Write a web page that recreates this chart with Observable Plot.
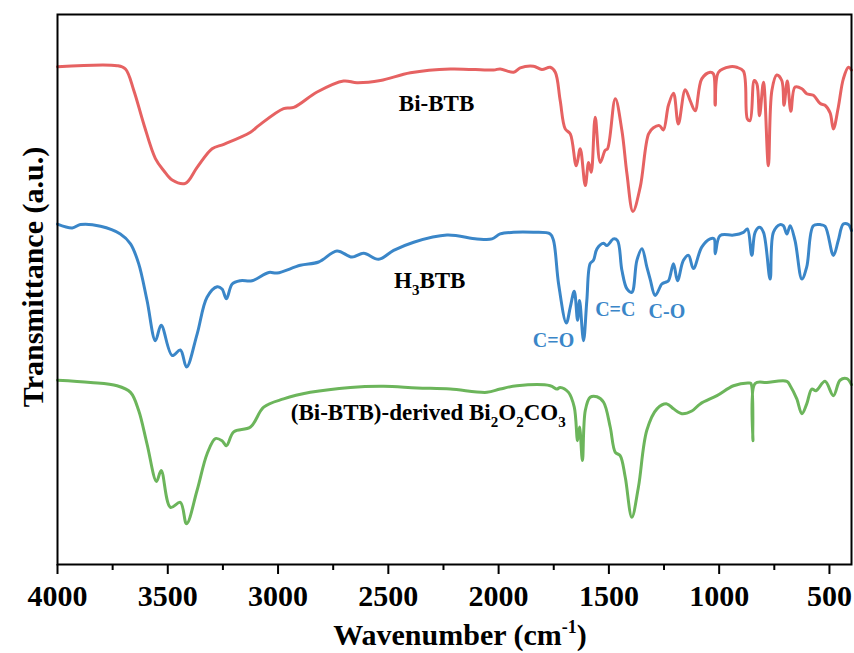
<!DOCTYPE html>
<html>
<head>
<meta charset="utf-8">
<script src="https://cdn.jsdelivr.net/npm/d3@7"></script>
<script src="https://cdn.jsdelivr.net/npm/@observablehq/plot@0.6"></script>
<style>
  html, body { margin: 0; padding: 0; background: #fff; }
  #chart svg { display: block; }
</style>
</head>
<body>
<div id="chart"></div>
<script>
// ---- Data (wavenumber in cm^-1, transmittance in a.u., curves offset) ----
const wnBiBTB = [4000,3730,3692,3654,3609,3556,3518,3480,3420,3367,
  3299,3246,3125,3088,2975,2929,2823,2703,2642,2536,
  2400,2219,2023,1993,1932,1902,1842,1804,1766,1743,
  1721,1698,1675,1648,1630,1607,1592,1580,1562,1539,
  1517,1506,1471,1441,1418,1391,1358,1320,1298,1271,
  1253,1230,1207,1185,1154,1132,1109,1079,1041,1026,
  1018,1003,950,920,890,872,860,841,829,817,
  799,777,761,739,716,706,691,675,656,625,
  603,573,542,520,497,482,460,437,414,400];
const tBiBTB = [90.5,90.7,90.1,86.2,80.1,73.8,71.6,69.9,69.3,72.2,
  75.6,76.4,78.6,79.8,82.9,83.1,85.9,87.9,87.6,88.0,
  89.4,90.1,89.9,90.1,89.5,90.3,90.6,90.0,90.4,89.5,
  84.4,79.2,78.3,72.5,75.6,68.9,73.1,71.3,81.3,73.1,
  75.3,75.6,84.7,78.9,71.0,64.2,68.6,78.3,79.4,79.8,
  79.0,83.5,85.7,80.1,86.3,84.4,82.5,88.3,89.5,89.2,
  83.5,89.5,90.5,90.4,89.7,81.0,80.7,88.0,87.4,81.6,
  87.7,72.5,86.2,89.0,88.0,83.5,87.9,82.4,86.8,86.5,
  85.6,85.3,83.8,83.5,82.1,79.2,83.1,88.3,90.4,89.9];

const wnH3BTB = [4000,3933,3896,3805,3715,3669,3632,3594,3556,3530,
  3480,3443,3415,3367,3322,3276,3254,3234,3208,3171,
  3118,3042,3004,2899,2816,2733,2665,2612,2544,2476,
  2385,2234,2098,2030,1993,1932,1842,1766,1751,1728,
  1693,1675,1657,1642,1633,1615,1600,1585,1570,1554,
  1524,1509,1479,1461,1441,1418,1396,1373,1350,1328,
  1313,1290,1260,1245,1230,1207,1189,1162,1139,1117,
  1079,1041,1023,1018,996,935,890,872,852,837,
  817,799,769,754,724,709,693,678,656,625,
  603,573,542,520,482,460,437,414,400];
const tH3BTB = [61.9,61.2,61.8,61.5,60.1,58.3,54.7,48.0,40.7,43.5,
  38.0,39.0,35.9,41.9,48.6,50.5,50.1,48.3,51.0,51.6,
  51.6,53.1,53.0,54.4,55.0,57.0,55.9,56.6,55.5,57.1,
  58.6,59.9,59.2,59.2,60.1,60.4,60.4,60.1,58.9,51.0,
  43.9,46.8,49.7,44.4,48.0,40.7,48.0,54.7,55.3,57.4,
  58.4,58.0,59.2,58.9,53.5,50.1,49.5,55.3,57.4,54.1,
  51.9,48.9,51.0,51.3,51.6,54.7,51.6,55.3,56.2,53.8,
  57.7,59.2,59.2,56.5,59.8,59.9,60.4,61.0,56.2,60.4,
  61.3,60.4,51.9,60.4,61.8,61.6,60.1,61.6,58.9,51.9,
  54.1,61.6,61.8,61.5,56.2,58.9,61.9,61.8,60.7];

const wnBi2O2CO3 = [4000,3850,3730,3669,3632,3594,3551,3530,3488,3443,
  3415,3367,3322,3284,3254,3234,3201,3125,3065,2975,
  2854,2672,2521,2370,2219,2053,1993,1917,1766,1736,
  1721,1683,1657,1642,1633,1620,1607,1585,1554,1524,
  1494,1471,1449,1426,1396,1366,1328,1282,1237,1207,
  1169,1124,1086,1010,935,867,856,847,837,784,
  693,678,648,625,603,580,561,520,482,452,
  421,400];
const tBi2O2CO3 = [33.5,33.1,32.5,31.3,28.0,21.9,15.1,17.1,10.4,11.3,
  7.4,13.5,20.1,22.9,22.5,21.6,24.1,25.0,28.6,30.1,
  31.3,32.2,32.4,32.1,31.9,31.3,31.9,32.5,32.5,31.9,
  32.2,31.3,28.6,22.5,25.0,18.9,28.0,30.4,30.5,29.5,
  25.0,20.4,19.8,15.9,8.6,14.1,24.4,28.3,29.2,28.3,
  27.4,27.9,29.2,30.7,32.5,33.0,32.9,22.5,32.9,33.1,
  33.3,32.5,30.1,27.4,29.2,31.9,31.6,33.3,30.7,33.5,
  33.8,32.7];

// Series labels (text, anchor wavenumber, anchor transmittance)
const seriesLabels = ["Bi-BTB", "H3BTB", "(Bi-BTB)-derived Bi2O2CO3"];
const seriesLabelWn = [2279, 2310, 2317];
const seriesLabelT = [83.8, 51.6, 27.5];

// Band assignments on the H3BTB curve
const bandLabels = ["C=O", "C=C", "C-O"];
const bandLabelWn = [1751, 1471, 1237];
const bandLabelT = [40.7, 46.3, 45.9];

const majorTicks = [4000, 3500, 3000, 2500, 2000, 1500, 1000, 500];
const minorTicks = [3750, 3250, 2750, 2250, 1750, 1250, 750];

const xTitle = "Wavenumber (cm";
const xTitleSup = "-1";
const yTitle = "Transmittance (a.u.)";

// ---- Styles ----
const colors = ["#e66262", "#3a86c8", "#6cb55b"];
const serif = "'Liberation Serif', 'Times New Roman', 'DejaVu Serif', serif";

const plot = Plot.plot({
  width: 854,
  height: 653,
  marginLeft: 57,
  marginRight: 3,
  marginTop: 14,
  marginBottom: 89,
  style: { background: "#fff", fontFamily: serif, overflow: "visible" },
  x: { domain: [4000, 400] },
  y: { domain: [0, 100], axis: null },
  marks: [
    Plot.line(tBiBTB, { x: wnBiBTB, y: tBiBTB, stroke: colors[0], strokeWidth: 3, curve: "catmull-rom", strokeLinejoin: "round" }),
    Plot.line(tH3BTB, { x: wnH3BTB, y: tH3BTB, stroke: colors[1], strokeWidth: 3, curve: "catmull-rom", strokeLinejoin: "round" }),
    Plot.line(tBi2O2CO3, { x: wnBi2O2CO3, y: tBi2O2CO3, stroke: colors[2], strokeWidth: 3, curve: "catmull-rom", strokeLinejoin: "round" }),
    Plot.text(bandLabels, { x: bandLabelWn, y: bandLabelT, text: d => d, fill: colors[1], fontSize: 20, fontWeight: "bold", fontFamily: serif }),
    Plot.frame({ stroke: "#000", strokeWidth: 2 }),
    Plot.axisX({ ticks: majorTicks, tickSize: 10, tickPadding: 10, tickFormat: d => String(d), fontSize: 30, fontWeight: "bold", fontFamily: serif, strokeWidth: 2, label: null, fill: "#000", stroke: "#000" }),
    Plot.axisX({ ticks: minorTicks, tickSize: 6, tickFormat: () => "", strokeWidth: 2, label: null, stroke: "#000" })
  ]
});

document.getElementById("chart").appendChild(plot);

// ---- Text with sub/superscripts, placed via the plot's own scales ----
const svg = d3.select(plot);
const sx = plot.scale("x"), sy = plot.scale("y");
const SUB_SHIFT = 7;

seriesLabels.forEach((label, i) => {
  const t = svg.append("text")
    .attr("x", sx.apply(seriesLabelWn[i]))
    .attr("y", sy.apply(seriesLabelT[i]))
    .attr("dy", "0.33em")
    .attr("text-anchor", "middle")
    .attr("font-family", serif)
    .attr("font-weight", "bold")
    .attr("font-size", 23)
    .attr("fill", "#000");
  const parts = label.split(/(\d+)/).filter(p => p !== "");
  let shifted = false;
  parts.forEach(p => {
    if (/^\d+$/.test(p)) {
      t.append("tspan").attr("font-size", 15).attr("dy", SUB_SHIFT).text(p);
      shifted = true;
    } else {
      const s = t.append("tspan").text(p);
      if (shifted) { s.attr("dy", -SUB_SHIFT); shifted = false; }
    }
  });
});

// x-axis title
const xt = svg.append("text")
  .attr("x", 460)
  .attr("y", 645)
  .attr("text-anchor", "middle")
  .attr("font-family", serif)
  .attr("font-weight", "bold")
  .attr("font-size", 30)
  .attr("fill", "#000");
xt.append("tspan").text(xTitle);
xt.append("tspan").attr("font-size", 18).attr("dy", -12).text(xTitleSup);
xt.append("tspan").attr("dy", 12).text(")");

// y-axis title
svg.append("text")
  .attr("transform", `translate(43,${(sy.apply(0) + sy.apply(100)) / 2 - 12}) rotate(-90)`)
  .attr("text-anchor", "middle")
  .attr("font-family", serif)
  .attr("font-weight", "bold")
  .attr("font-size", 30)
  .attr("fill", "#000")
  .text(yTitle);
</script>
</body>
</html>
